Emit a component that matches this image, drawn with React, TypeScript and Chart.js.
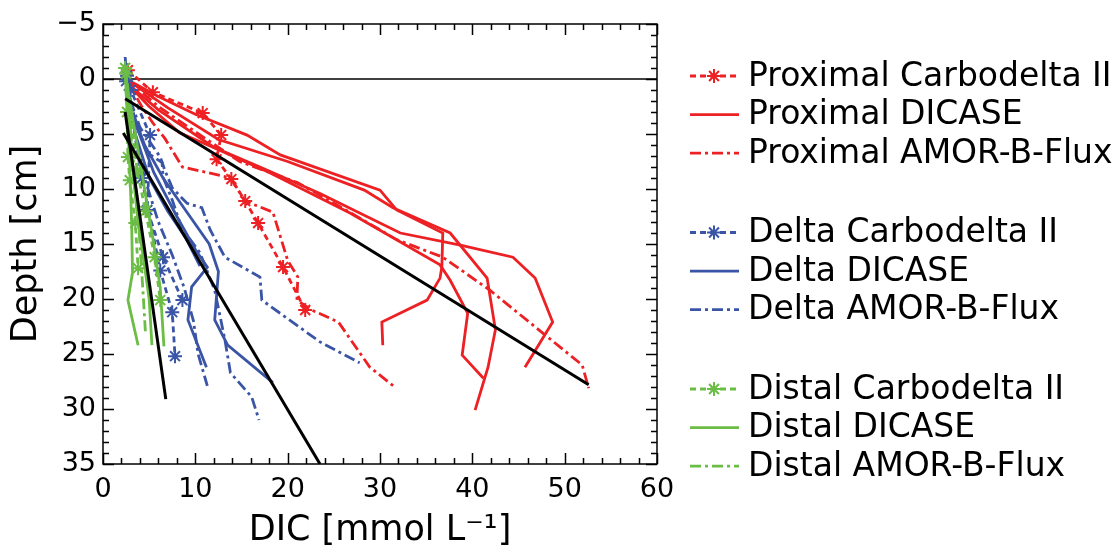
import React, { useEffect, useRef } from 'react';
import { Chart, registerables } from 'chart.js';

Chart.register(...registerables);

// ---------- data: [DIC (mmol/L), depth (cm)] ----------
const proxCarbo1: [number, number][] = [[2.7, -0.8], [5.4, 1.2], [10.8, 3.1], [12.8, 5.1], [12.3, 7.3], [13.9, 9.1], [15.4, 11.1], [16.8, 13.1], [19.5, 17.1], [21.9, 21.0]];
const proxDicase1: [number, number][] = [[2.5, 0], [6, 1.6], [10, 3.2], [15.6, 5.1], [19.2, 6.9], [30, 10.1], [31.8, 11.9], [36.8, 14], [36.7, 17.1], [36.5, 18.1], [35.1, 20.1], [30.2, 22.1], [30.3, 24.2]];
const proxDicase2: [number, number][] = [[2.5, 0], [7, 2.6], [12.5, 5.5], [20, 7.5], [28.3, 10.1], [31.4, 11.7], [37.6, 14], [41.6, 18.1], [42.5, 22.8], [41.7, 26.2], [40.3, 30.1]];
const proxDicase3: [number, number][] = [[2.5, 0.3], [5, 2.5], [8.3, 4.9], [11.9, 6.2], [18, 8.5], [26.8, 12.2], [36.5, 16.9], [37.6, 18.3], [39.5, 21.3], [38.9, 25.1], [41.2, 27.2]];
const proxDicase4: [number, number][] = [[2.5, 0.3], [6, 2.8], [12, 6.2], [17, 8], [23.5, 10.4], [32.2, 14], [38.7, 15.1], [44.4, 16.2], [46.8, 18.1], [48.7, 22.1], [45.7, 26.2]];
const proxAmor1: [number, number][] = [[2.5, 0], [6, 2.5], [10, 4.8], [14.8, 7.5], [21, 9.4], [23.8, 10.7], [31.8, 14.6], [36.8, 16.2], [41.9, 19.2], [51.9, 26], [52.6, 28.1]];
const proxAmor2: [number, number][] = [[2.5, 0], [4.2, 2.5], [5.4, 4], [6.7, 5.4], [8.6, 8], [11.3, 8.5], [13.8, 9], [15.4, 11.1], [18.4, 12.1], [20, 16.5], [21.1, 18], [21, 20.1], [22.6, 21], [25.5, 22.1], [28.9, 26.2], [31.6, 28]];

const deltaCarbo1: [number, number][] = [[2.6, -0.3], [3, 1], [5.1, 5.1], [4.8, 11.9], [6.5, 16.2], [8.6, 20.1]];
const deltaCarbo2: [number, number][] = [[2.5, 0.2], [4.2, 9], [6.2, 17.4], [7.5, 21.2], [7.8, 25.2]];
const deltaDicase1: [number, number][] = [[2.4, -2], [2.8, 2], [4.5, 6], [6.5, 9], [9, 12], [11.5, 15], [12.5, 17.5], [12.1, 21.9], [13.5, 24.2], [18.4, 27.6]];
const deltaDicase2: [number, number][] = [[2.5, 0], [3.5, 4], [5.5, 8.5], [8, 12.5], [10, 15.5], [11.3, 17.1], [9.6, 18.9], [9.2, 21.9], [11.2, 26.2]];
const deltaDicase3: [number, number][] = [[2.5, 0], [3.5, 5], [5, 9], [7, 12], [9, 14.5], [10.5, 17]];
const deltaAmor1: [number, number][] = [[2.5, 0], [3, 2], [4, 4.4], [6.2, 7.1], [6.7, 8.3], [7.5, 9.9], [9.1, 11.3], [10.7, 11.7], [11.6, 13.7], [13.2, 16.2], [17, 18], [17.2, 20.1], [23.5, 23.9], [27.8, 25.8]];
const deltaAmor2: [number, number][] = [[2.5, 0], [3.5, 4], [4.8, 6.7], [6.4, 7.6], [6.5, 8.9], [7.5, 11], [8.5, 13.5], [10.5, 15.8], [12.1, 19.2], [13.2, 23.7], [13.8, 26.7], [16.1, 28.9], [16.9, 31]];
const deltaAmor3: [number, number][] = [[2.5, 0], [3.5, 5], [4.5, 9], [6, 13], [7.5, 16], [8.8, 19], [9.8, 22], [10.3, 25], [11.3, 27.9]];

const distCarbo1: [number, number][] = [[2.4, -1], [2.6, 3], [2.7, 7.1], [2.9, 9.2], [3.5, 13.1], [3.8, 17.2]];
const distCarbo2: [number, number][] = [[2.5, -0.5], [3.7, 8.3], [4.6, 12], [5.6, 16.2], [6.2, 20.1]];
const distDicase1: [number, number][] = [[2.4, -1], [2.6, 3], [2.9, 8], [3.1, 13], [3.2, 17.6], [2.7, 20.1], [3.8, 24.2]];
const distDicase2: [number, number][] = [[2.5, 0], [2.9, 4], [3.3, 9], [3.8, 13], [4.5, 17], [5.0, 20], [5.3, 24.2]];
const distDicase3: [number, number][] = [[2.5, 0], [3.5, 5], [4.5, 10], [5.5, 15], [6.2, 19], [6.6, 24.3]];
const distAmor1: [number, number][] = [[2.5, 0], [3, 5], [3.6, 10], [4.0, 15], [4.3, 18.9], [4.6, 23.1]];

const regProximal: [number, number][] = [[2.4, 1.8], [52.6, 27.8]];
const regDelta: [number, number][] = [[2.2, 4.9], [23.5, 35]];
const regDistal: [number, number][] = [[2.4, 3.0], [6.8, 29.1]];

const legendGroups = ['Proximal', 'Delta', 'Distal'];
const legendMethods = ['Carbodelta II', 'DICASE', 'AMOR-B-Flux'];

// ---------- styles ----------
const RED = '#ed2024';
const BLUE = '#3a55a5';
const GREEN = '#6cbd45';
const groupColors = [RED, BLUE, GREEN];
const DASH_CARBO = [6, 4];
const DASH_AMOR = [11, 4, 3, 4];
const methodDash = [DASH_CARBO, [], DASH_AMOR];
const FONT = '"DejaVu Sans", sans-serif';

function mk(data: [number, number][], color: string, method: number, order: number) {
  return {
    data: data.map(([x, y]) => ({ x, y })),
    borderColor: color,
    backgroundColor: color,
    borderWidth: 2.8,
    borderDash: methodDash[method],
    pointStyle: method === 0 ? 'star' : 'circle',
    pointRadius: method === 0 ? 7 : 0,
    pointBorderWidth: 2,
    pointBorderColor: color,
    pointHoverRadius: 0,
    showLine: true,
    tension: 0,
    fill: false,
    order,
  };
}

function mkReg(data: [number, number][]) {
  return {
    data: data.map(([x, y]) => ({ x, y })),
    borderColor: '#000',
    borderWidth: 3,
    pointRadius: 0,
    showLine: true,
    fill: false,
    order: 0,
  };
}

const framePlugin = {
  id: 'frameTicksLegend',
  beforeDatasetsDraw(chart: any) {
    const { ctx, chartArea: a, scales } = chart;
    const y0 = scales.y.getPixelForValue(0);
    ctx.save();
    ctx.strokeStyle = '#000';
    ctx.lineWidth = 1.5;
    ctx.beginPath();
    ctx.moveTo(a.left, y0);
    ctx.lineTo(a.right, y0);
    ctx.stroke();
    ctx.restore();
  },
  afterDatasetsDraw(chart: any) {
    const { ctx, chartArea: a, scales } = chart;
    const sx = scales.x;
    const sy = scales.y;
    ctx.save();
    ctx.strokeStyle = '#000';
    ctx.lineWidth = 1.5;
    ctx.setLineDash([]);
    ctx.strokeRect(a.left, a.top, a.right - a.left, a.bottom - a.top);
    ctx.beginPath();
    for (let v = 0; v <= 60; v += 2) {
      const px = Math.round(sx.getPixelForValue(v)) + 0.5;
      const len = v % 10 === 0 ? 11 : 6;
      ctx.moveTo(px, a.bottom);
      ctx.lineTo(px, a.bottom - len);
      ctx.moveTo(px, a.top);
      ctx.lineTo(px, a.top + len);
    }
    for (let v = -5; v <= 35; v += 1) {
      const py = Math.round(sy.getPixelForValue(v)) + 0.5;
      const len = v % 5 === 0 ? 11 : 6;
      ctx.moveTo(a.left, py);
      ctx.lineTo(a.left + len, py);
      ctx.moveTo(a.right, py);
      ctx.lineTo(a.right - len, py);
    }
    ctx.stroke();
    ctx.restore();
  },
  afterDraw(chart: any) {
    const { ctx } = chart;
    ctx.save();
    legendGroups.forEach((g, gi) => {
      legendMethods.forEach((m, mi) => {
        const y = 76 + gi * 156.5 + mi * 38.6;
        const color = groupColors[gi];
        ctx.strokeStyle = color;
        ctx.lineWidth = 2.8;
        ctx.setLineDash(methodDash[mi]);
        ctx.beginPath();
        ctx.moveTo(690, y);
        ctx.lineTo(739, y);
        ctx.stroke();
        ctx.setLineDash([]);
        if (mi === 0) {
          ctx.lineWidth = 2;
          ctx.beginPath();
          const r = 7;
          for (let k = 0; k < 4; k++) {
            const ang = (k * Math.PI) / 4;
            ctx.moveTo(714 - r * Math.cos(ang), y - r * Math.sin(ang));
            ctx.lineTo(714 + r * Math.cos(ang), y + r * Math.sin(ang));
          }
          ctx.stroke();
        }
        ctx.fillStyle = '#000';
        ctx.font = `33px ${FONT}`;
        ctx.textBaseline = 'middle';
        ctx.textAlign = 'left';
        ctx.fillText(`${g} ${m}`, 748, y + 1);
      });
    });
    ctx.restore();
  },
};

export default function App() {
  const ref = useRef<HTMLCanvasElement | null>(null);
  useEffect(() => {
    if (!ref.current) return;
    Chart.defaults.font.family = FONT;
    const datasets: any[] = [
      mkReg(regProximal),
      mkReg(regDelta),
      mkReg(regDistal),
      mk(distCarbo1, GREEN, 0, 1),
      mk(distCarbo2, GREEN, 0, 1),
      mk(distDicase1, GREEN, 1, 1),
      mk(distDicase2, GREEN, 1, 1),
      mk(distDicase3, GREEN, 1, 1),
      mk(distAmor1, GREEN, 2, 1),
      mk(deltaCarbo1, BLUE, 0, 2),
      mk(deltaCarbo2, BLUE, 0, 2),
      mk(deltaDicase1, BLUE, 1, 2),
      mk(deltaDicase2, BLUE, 1, 2),
      mk(deltaDicase3, BLUE, 1, 2),
      mk(deltaAmor1, BLUE, 2, 2),
      mk(deltaAmor2, BLUE, 2, 2),
      mk(deltaAmor3, BLUE, 2, 2),
      mk(proxCarbo1, RED, 0, 3),
      mk(proxDicase1, RED, 1, 3),
      mk(proxDicase2, RED, 1, 3),
      mk(proxDicase3, RED, 1, 3),
      mk(proxDicase4, RED, 1, 3),
      mk(proxAmor1, RED, 2, 3),
      mk(proxAmor2, RED, 2, 3),
    ];
    const chart = new Chart(ref.current, {
      type: 'line',
      data: { datasets },
      options: {
        animation: false,
        responsive: false,
        devicePixelRatio: 1,
        layout: { padding: { top: 24, right: 460, left: 0, bottom: 0 } },
        plugins: { legend: { display: false }, tooltip: { enabled: false } },
        scales: {
          x: {
            type: 'linear',
            min: 0,
            max: 60,
            grid: { display: false, drawTicks: false },
            border: { display: false },
            ticks: { stepSize: 10, color: '#000', font: { size: 27, family: FONT }, padding: 10, maxRotation: 0 },
            title: { display: true, text: 'DIC [mmol L⁻¹]', color: '#000', font: { size: 35, family: FONT }, padding: { top: 0, bottom: 1 } },
            afterFit: (s: any) => { s.height = 89; },
          },
          y: {
            type: 'linear',
            reverse: true,
            min: -5,
            max: 35,
            grid: { display: false, drawTicks: false },
            border: { display: false },
            ticks: {
              stepSize: 5,
              color: '#000',
              font: { size: 27, family: FONT },
              padding: 7,
              callback: (v: any) => String(v).replace('-', '\u2212'),
            },
            title: { display: true, text: 'Depth [cm]', color: '#000', font: { size: 35, family: FONT }, padding: { top: 6, bottom: 0 } },
            afterFit: (s: any) => { s.width = 103; },
          },
        },
      },
      plugins: [framePlugin],
    } as any);
    return () => chart.destroy();
  }, []);
  return (
    <div style={{ position: 'absolute', left: 0, top: 0, width: 1117, height: 553, background: '#fff' }}>
      <canvas ref={ref} width={1117} height={553} style={{ width: 1117, height: 553, display: 'block' }} />
    </div>
  );
}
